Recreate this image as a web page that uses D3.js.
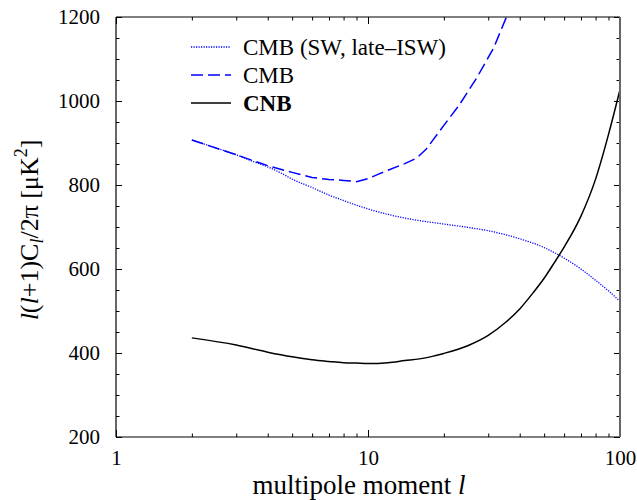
<!DOCTYPE html>
<html>
<head>
<meta charset="utf-8">
<script src="https://cdn.jsdelivr.net/npm/d3@7"></script>
<style>
  html, body { margin: 0; padding: 0; background: #fff; }
  svg { display: block; }
  text { font-family: "Liberation Serif", "DejaVu Serif", serif; fill: #000; }
</style>
</head>
<body>
<svg id="chart" width="637" height="500"></svg>
<script>
// ---- data ----
const swL    = [2, 2.5, 3, 3.5, 4, 4.5, 5, 6, 7, 8, 9, 10, 12, 15, 20, 25, 30, 40, 50, 60, 70, 80, 90, 100];
const swVals = [907, 888, 872, 856, 843, 829, 814, 794, 776, 763, 752, 743, 730, 718, 707, 699, 691, 672, 651, 626, 600, 573, 548, 523];

const cmbL    = [2, 3, 4, 5, 6, 7, 8, 9, 10, 11, 12, 14, 15.6, 17, 18, 20, 23, 27, 31.5, 36];
const cmbVals = [907, 872, 846, 830, 818, 813, 811, 808, 815, 826, 835, 851, 864, 885, 905, 942, 990, 1055, 1126, 1210];

const cnbL    = [2, 3, 4, 5, 6, 7, 8, 9, 10, 12, 14, 16, 18, 20, 25, 30, 35, 40, 45, 50, 55, 60, 70, 80, 90, 100];
const cnbVals = [436, 419, 402, 391, 384, 380, 377, 376, 375, 377, 382, 386, 392, 399, 418, 442, 472, 505, 542, 578, 616, 652, 726, 814, 920, 1027];

const xMajorTicks = [1, 10, 100];
const xMinorTicks = [2, 3, 4, 5, 6, 7, 8, 9, 20, 30, 40, 50, 60, 70, 80, 90];
const yMajorTicks = [200, 400, 600, 800, 1000, 1200];
const yMinorTicks = [250, 300, 350, 450, 500, 550, 650, 700, 750, 850, 900, 950, 1050, 1100, 1150];

const legendLabels = ["CMB (SW, late\u2013ISW)", "CMB", "CNB"];

// ---- layout ----
const W = 637, H = 500;
const m = { left: 116, right: 17, top: 17, bottom: 63 };
const iw = W - m.left - m.right, ih = H - m.top - m.bottom;

const svg = d3.select("#chart");
const g = svg.append("g").attr("transform", `translate(${m.left},${m.top})`);

const x = d3.scaleLog().domain([1, 100]).range([0, iw]);
const y = d3.scaleLinear().domain([200, 1200]).range([ih, 0]);

svg.append("defs").append("clipPath").attr("id", "clip")
  .append("rect").attr("x", 0).attr("y", 0).attr("width", iw).attr("height", ih);

// ---- series ----
const line = d3.line().x(d => x(d[0])).y(d => y(d[1]));
const smooth = d3.line().x(d => x(d[0])).y(d => y(d[1])).curve(d3.curveMonotoneX);

const plot = g.append("g").attr("clip-path", "url(#clip)");
plot.append("path")
  .datum(swL.map((l, i) => [l, swVals[i]]))
  .attr("d", smooth).attr("fill", "none")
  .attr("stroke", "#0000ff").attr("stroke-width", 1.3).attr("stroke-dasharray", "1.2,1.3");
plot.append("path")
  .datum(cmbL.map((l, i) => [l, cmbVals[i]]))
  .attr("d", line).attr("fill", "none")
  .attr("stroke", "#0000ff").attr("stroke-width", 1.5).attr("stroke-dasharray", "12,5");
plot.append("path")
  .datum(cnbL.map((l, i) => [l, cnbVals[i]]))
  .attr("d", smooth).attr("fill", "none")
  .attr("stroke", "#000").attr("stroke-width", 1.5);

// ---- axes (ticks inward) ----
function styleAxis(sel) {
  sel.select(".domain").remove();
  sel.selectAll(".tick line").attr("stroke", "#000").attr("stroke-width", 1);
}
g.append("g").attr("transform", `translate(0,${ih})`)
  .call(d3.axisBottom(x).tickValues(xMajorTicks).tickSize(-7).tickPadding(13).tickFormat(d3.format("d")))
  .call(styleAxis)
  .selectAll("text").attr("font-size", 21).attr("font-family", "Liberation Serif");
g.append("g").attr("transform", `translate(0,${ih})`)
  .call(d3.axisBottom(x).tickValues(xMinorTicks).tickSize(-3.5).tickFormat(""))
  .call(styleAxis);
g.append("g")
  .call(d3.axisTop(x).tickValues(xMajorTicks).tickSize(-7).tickFormat(""))
  .call(styleAxis);
g.append("g")
  .call(d3.axisTop(x).tickValues(xMinorTicks).tickSize(-3.5).tickFormat(""))
  .call(styleAxis);

g.append("g")
  .call(d3.axisLeft(y).tickValues(yMajorTicks).tickSize(-6).tickPadding(16).tickFormat(d3.format("d")))
  .call(styleAxis)
  .selectAll("text").attr("font-size", 21).attr("font-family", "Liberation Serif");
g.append("g")
  .call(d3.axisLeft(y).tickValues(yMinorTicks).tickSize(-3.5).tickFormat(""))
  .call(styleAxis);
g.append("g").attr("transform", `translate(${iw},0)`)
  .call(d3.axisRight(y).tickValues(yMajorTicks).tickSize(-6).tickFormat(""))
  .call(styleAxis);
g.append("g").attr("transform", `translate(${iw},0)`)
  .call(d3.axisRight(y).tickValues(yMinorTicks).tickSize(-3.5).tickFormat(""))
  .call(styleAxis);

// frame
g.append("line").attr("x1", 0).attr("x2", iw).attr("y1", 0).attr("y2", 0).attr("stroke", "#000").attr("stroke-width", 1.2);
g.append("line").attr("x1", 0).attr("x2", iw).attr("y1", ih).attr("y2", ih).attr("stroke", "#000").attr("stroke-width", 1.2);
g.append("line").attr("x1", 0).attr("x2", 0).attr("y1", 0).attr("y2", ih).attr("stroke", "#000").attr("stroke-width", 1.2);
g.append("line").attr("x1", iw).attr("x2", iw).attr("y1", 0).attr("y2", ih).attr("stroke", "#666").attr("stroke-width", 2);

// ---- axis titles ----
const xt = svg.append("text").attr("x", 359).attr("y", 494)
  .attr("text-anchor", "middle").attr("font-size", 27);
xt.append("tspan").text("multipole moment ");
xt.append("tspan").attr("font-style", "italic").text("l");

const yt = svg.append("text")
  .attr("transform", "translate(38,230) rotate(-90)")
  .attr("text-anchor", "middle").attr("font-size", 26);
yt.append("tspan").attr("font-style", "italic").text("l");
yt.append("tspan").text("(");
yt.append("tspan").attr("font-style", "italic").text("l");
yt.append("tspan").text("+1)C");
yt.append("tspan").attr("font-style", "italic").attr("font-size", 18).attr("dy", 5).text("l");
yt.append("tspan").attr("dy", -5).text("/2\u03c0 [\u03bcK");
yt.append("tspan").attr("font-size", 18).attr("dy", -11).text("2");
yt.append("tspan").attr("dy", 11).text("]");

// ---- legend ----
const legY = [47, 75, 103];
const legStyles = [
  { color: "#0000ff", dash: "1.2,1.3", width: 1.3, weight: "normal" },
  { color: "#0000ff", dash: "12,5", width: 1.5, weight: "normal" },
  { color: "#000", dash: null, width: 1.5, weight: "bold" }
];
legendLabels.forEach((lab, i) => {
  const s = legStyles[i];
  svg.append("line").attr("x1", 191).attr("x2", 231).attr("y1", legY[i]).attr("y2", legY[i])
    .attr("stroke", s.color).attr("stroke-width", s.width)
    .attr("stroke-dasharray", s.dash);
  svg.append("text").attr("x", 243).attr("y", legY[i] + 8)
    .attr("font-size", 23).attr("font-weight", s.weight).text(lab);
});
</script>
</body>
</html>
